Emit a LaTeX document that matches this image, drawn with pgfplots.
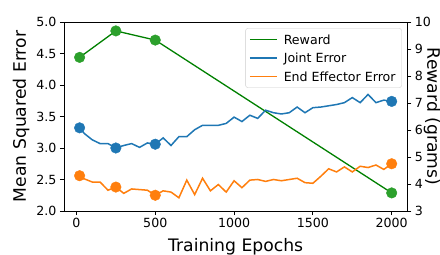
\documentclass[border=0pt]{standalone}
\usepackage{fontspec}
\setmainfont{DejaVu Sans}
\usepackage{pgfplots}
\pgfplotsset{compat=1.18}
\definecolor{tabblue}{HTML}{1F77B4}
\definecolor{taborange}{HTML}{FF7F0E}
\definecolor{tabgreen}{HTML}{2CA02C}
\definecolor{mplgreen}{HTML}{008000}
\newcommand{\tickfont}{\fontsize{12.6bp}{14bp}\selectfont}
\newcommand{\labfont}{\fontsize{17.2bp}{19bp}\selectfont}
\pgfplotsset{
  common/.style={
    scale only axis, width=343.3bp, height=189bp,
    xmin=-79, xmax=2099,
    tick align=outside, major tick length=4bp,
    every tick/.style={black, line width=0.8bp},
    axis line style={line width=0.8bp},
    /pgf/number format/assume math mode=true,
    /pgf/number format/1000 sep={},
  },
  mylegline/.style={legend image code/.code={\draw[##1] (0bp,0bp) -- (26.7bp,0bp);}},
  % left-axis values (units of 1e-2, range 2..5) mapped onto the right axis range 3..10
  leftscale/.style={y filter/.expression={3+(y-2)*7/3}},
}
\begin{document}
\begin{tikzpicture}
\begin{axis}[common, name=ax,
  xtick pos=left, ytick pos=left,
  ymin=2, ymax=5,
  xtick={0,500,1000,1500,2000},
  ytick={2,2.5,3,3.5,4,4.5,5},
  xticklabel style={font=\tickfont},
  yticklabel style={font=\tickfont, /pgf/number format/.cd, fixed, fixed zerofill, precision=1},
  xlabel={Training Epochs},
  ylabel={Mean Squared Error},
  every axis y label/.style={at={(axis description cs:0,0.5)}, xshift=-38bp, rotate=90, anchor=base, font=\labfont},
  every axis x label/.style={at={(axis description cs:0.5,0)}, yshift=-40.7bp, anchor=base, font=\labfont},
]
\node[anchor=base west, inner sep=0pt, yshift=3.7bp, font=\tickfont] at (axis description cs:0,1) {1e−2};
\end{axis}
\begin{axis}[common,
  axis x line=none, axis y line*=right,
  ymin=3, ymax=10, ytick={3,4,5,6,7,8,9,10},
  yticklabel style={font=\tickfont},
  ylabel={Reward (grams)},
  every axis y label/.style={at={(axis description cs:1,0.5)}, xshift=20bp, rotate=-90, anchor=base, font=\labfont},
  legend cell align=left,
  legend style={at={(axis description cs:1,1)}, anchor=north east, xshift=-5.6bp, yshift=-6.3bp,
    draw=black!20, rounded corners=2bp, fill=white, text opacity=1,
    font=\tickfont, inner xsep=3.5bp, inner ysep=1.75bp, row sep=0bp, column sep=4bp,
    nodes={inner sep=2.4bp, text height=11.5bp, text depth=2.2bp}},
]
% Reward (grams)
\addplot[mplgreen, line width=1.3bp, mylegline] coordinates {(20,8.69) (250,9.67) (500,9.33) (2000,3.67)};
\addlegendentry{Reward}
% Joint error (1e-2)
\addplot[tabblue, line width=1.5bp, mylegline, leftscale] coordinates {
(20,3.32) (50,3.23) (100,3.13) (150,3.07) (200,3.07) (250,3.00) (300,3.04) (350,3.07) (400,3.01) (450,3.08) (500,3.06) (550,3.16) (600,3.04) (650,3.18) (700,3.18) (750,3.29) (800,3.36) (850,3.36) (900,3.36) (950,3.39) (1000,3.49) (1050,3.42) (1100,3.52) (1150,3.47) (1200,3.60) (1250,3.56) (1300,3.54) (1350,3.56) (1400,3.65) (1450,3.56) (1500,3.64) (1550,3.65) (1600,3.67) (1650,3.69) (1700,3.72) (1750,3.80) (1800,3.72) (1850,3.85) (1900,3.72) (1950,3.76) (2000,3.74)
};
\addlegendentry{Joint Error}
% End effector error (1e-2)
\addplot[taborange, line width=1.5bp, mylegline, leftscale] coordinates {
(20,2.56) (50,2.51) (100,2.46) (150,2.46) (200,2.33) (250,2.38) (300,2.28) (350,2.35) (400,2.34) (450,2.33) (500,2.25) (550,2.32) (600,2.30) (650,2.21) (700,2.49) (750,2.26) (800,2.52) (850,2.32) (900,2.42) (950,2.30) (1000,2.48) (1050,2.37) (1100,2.49) (1150,2.50) (1200,2.47) (1250,2.50) (1300,2.48) (1350,2.50) (1400,2.52) (1450,2.45) (1500,2.44) (1550,2.55) (1600,2.67) (1650,2.62) (1700,2.70) (1750,2.62) (1800,2.71) (1850,2.69) (1900,2.73) (1950,2.66) (2000,2.75)
};
\addlegendentry{End Effector Error}
\addplot[only marks, mark=*, mark size=5.3bp, tabblue, mark options={draw=none, fill=tabblue}, leftscale, forget plot] coordinates {(20,3.32) (250,3.00) (500,3.06) (2000,3.74)};
\addplot[only marks, mark=*, mark size=5.3bp, taborange, mark options={draw=none, fill=taborange}, leftscale, forget plot] coordinates {(20,2.56) (250,2.38) (500,2.25) (2000,2.75)};
\addplot[only marks, mark=*, mark size=5.3bp, tabgreen, mark options={draw=none, fill=tabgreen}, forget plot] coordinates {(20,8.69) (250,9.67) (500,9.33) (2000,3.67)};
\end{axis}
\pgfresetboundingbox
\path ([xshift=-64bp,yshift=-44bp]ax.south west) rectangle ([xshift=32.7bp,yshift=22bp]ax.north east);
\end{tikzpicture}
\end{document}
